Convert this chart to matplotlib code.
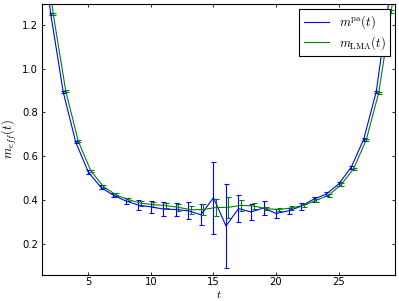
import matplotlib
matplotlib.use("Agg")
import matplotlib.pyplot as plt
from matplotlib.lines import Line2D

plt.rcParams["mathtext.fontset"] = "cm"

t = list(range(1, 31))
m_pa = [1.70, 1.25, 0.894, 0.665, 0.529, 0.460, 0.423, 0.397, 0.378, 0.370,
        0.360, 0.358, 0.352, 0.334, 0.412, 0.283, 0.362, 0.347, 0.365, 0.340,
        0.352, 0.373, 0.405, 0.428, 0.474, 0.550, 0.678, 0.894, 1.30, 1.75]
m_pa_err = [0.005, 0.005, 0.006, 0.006, 0.007, 0.008, 0.010, 0.015, 0.023, 0.029,
            0.031, 0.031, 0.038, 0.047, 0.164, 0.190, 0.060, 0.037, 0.030, 0.019,
            0.015, 0.015, 0.011, 0.010, 0.009, 0.007, 0.006, 0.006, 0.005, 0.005]
m_lma = [1.70, 1.25, 0.899, 0.670, 0.535, 0.463, 0.425, 0.403, 0.387, 0.380,
         0.376, 0.368, 0.357, 0.358, 0.367, 0.368, 0.377, 0.374, 0.362, 0.358,
         0.365, 0.377, 0.400, 0.423, 0.472, 0.544, 0.675, 0.890, 1.26, 1.70]
m_lma_err = [0.005, 0.005, 0.005, 0.005, 0.005, 0.006, 0.007, 0.008, 0.012, 0.012,
             0.012, 0.015, 0.018, 0.026, 0.038, 0.047, 0.024, 0.012, 0.008, 0.008,
             0.008, 0.007, 0.006, 0.006, 0.005, 0.005, 0.005, 0.005, 0.005, 0.005]
labels = [r"$m^{\rm pa}(t)$", r"$m_{\rm LMA}(t)$"]

shift = 0.2
fs = 7.2
blue = (0, 0, 1)
green = (0, 0.5, 0)

fig = plt.figure(figsize=(3.99, 3.01), dpi=100)
ax = fig.add_axes([0.106, 0.088, 0.884, 0.898])

ax.errorbar(t, m_pa, yerr=m_pa_err, color=blue, lw=0.8, elinewidth=0.8,
            capsize=1.8, capthick=0.8)
ax.errorbar([x + shift for x in t], m_lma, yerr=m_lma_err, color=green, lw=0.8,
            elinewidth=0.8, capsize=1.8, capthick=0.8)

ax.set_xlim(1.33, 29.5)
ax.set_ylim(0.062, 1.293)
ax.set_xticks([5, 10, 15, 20, 25])
ax.set_yticks([0.2, 0.4, 0.6, 0.8, 1.0, 1.2])
ax.tick_params(direction="in", top=True, right=True, length=2.5, width=0.6,
               labelsize=fs, pad=3)
ax.tick_params(axis="x", pad=2)
for s in ax.spines.values():
    s.set_linewidth(0.8)

ax.set_xlabel(r"$t$", fontsize=fs + 1, va="bottom")
ax.xaxis.set_label_coords(0.5, -0.094)
ax.set_ylabel(r"$m_{eff}(t)$", fontsize=fs + 2, labelpad=2)

handles = [Line2D([], [], color=blue, lw=0.8), Line2D([], [], color=green, lw=0.8)]
leg = ax.legend(handles, labels, loc="upper right", fontsize=9, fancybox=False,
                framealpha=1, edgecolor="black", borderaxespad=0.4,
                handlelength=2.0, labelspacing=0.22, borderpad=0.35)
leg.get_frame().set_linewidth(0.8)

fig.savefig("out.png", dpi=100)
